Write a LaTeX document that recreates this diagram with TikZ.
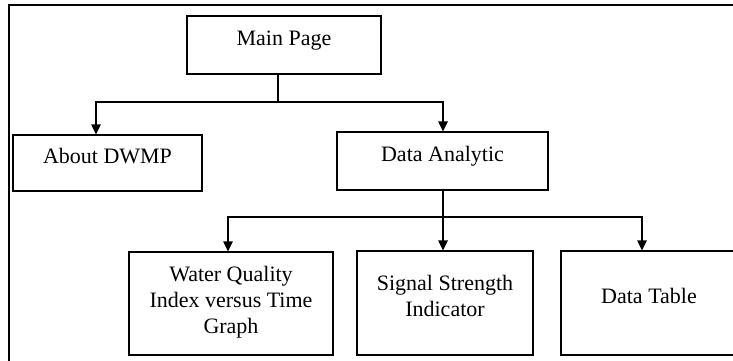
\documentclass[tikz,border=0pt]{standalone}
\usepackage{fontspec}
\setmainfont{Liberation Serif}
\usetikzlibrary{arrows.meta,calc}

\tikzset{
  box/.style={draw=black, line width=1.2pt, rectangle, inner sep=0pt,
    text height=0pt, text depth=0pt,
    font=\fontsize{22}{26}\selectfont},
  link/.style={draw=black, line width=1.2pt},
  arr/.style={link, -{Triangle[length=10pt,width=9.5pt]}},
  frame/.style={draw=black, line width=2.5pt}
}

\newcommand{\stackedtext}[2]{\raisebox{#1}{\begin{tabular}[b]{@{}c@{}}#2\end{tabular}}}

\begin{document}
\begin{tikzpicture}[x=1pt, y=-1pt]
  \useasboundingbox (0,0) rectangle (733,360);
  \clip (0,0) rectangle (733,360);

  % outer frame, running past the right and bottom edges
  \draw[frame] (9,5) rectangle (760,380);

  % boxes
  \node[box, minimum width=194pt, minimum height=58pt] (main) at (284,45) {Main Page};
  \node[box, minimum width=189pt, minimum height=56pt] (about) at (107.5,163) {About DWMP};
  \node[box, minimum width=211pt, minimum height=58pt] (analytic) at (442.5,161) {Data Analytic};
  \node[box, minimum width=204pt, minimum height=103pt] (wqi) at (231,303.5)
    {\stackedtext{-29.5pt}{Water Quality\\Index versus Time\\Graph}};
  \node[box, minimum width=176pt, minimum height=104pt] (signal) at (445,303)
    {\stackedtext{-13pt}{Signal Strength\\Indicator}};
  \node[box, minimum width=176pt, minimum height=104pt] (table) at (649,303) {Data Table};

  % branch points
  \coordinate (busA) at (278,102);
  \coordinate (busB) at (443,217);

  % connectors
  \draw[link] (main.south -| busA) -- (busA);
  \draw[arr] (busA) -| ([xshift=-11.5pt]about.north);
  \draw[arr] (busA) -| (busA -| busB) -- (busB |- analytic.north);

  \draw[link] (busB |- analytic.south) -- (busB);
  \draw[arr] (busB) -| ([xshift=-3pt]wqi.north);
  \draw[arr] (busB) -- (busB |- signal.north);
  \draw[arr] (busB) -| ([xshift=-7pt]table.north);
\end{tikzpicture}
\end{document}
